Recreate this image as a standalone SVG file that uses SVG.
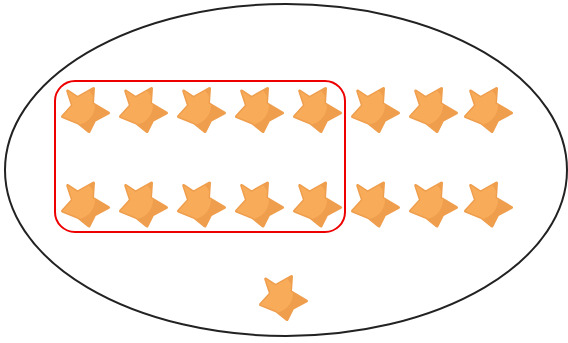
<svg xmlns="http://www.w3.org/2000/svg" width="568" height="343" viewBox="0 0 568 343">
<style>
.dark{fill:#EF9E4D;stroke:#EF9E4D;stroke-width:3;stroke-linejoin:round}
.light{fill:#F8AC59}
</style>
<defs>
<path id="sp" d="M9.5,-21.5 L8.5,-6.5 L24.5,3 L10.5,10.5 L5,21.5 L-5.5,13 L-21.5,6.5 L-11.5,-4.5 L-16.3,-19 L-6.5,-12.5 Z"/>
<clipPath id="sc"><use href="#sp"/></clipPath>
<g id="star">
<use href="#sp" class="dark"/>
<g clip-path="url(#sc)"><ellipse class="light" cx="-9" cy="-5" rx="20" ry="20"/></g>
</g>
</defs>
<g id="set">
<ellipse cx="286" cy="170" rx="281" ry="166" fill="none" stroke="#222" stroke-width="2"/>
</g>
<g id="group">
<rect x="55" y="81" width="290" height="151" rx="20" fill="none" stroke="#E00" stroke-width="2"/>
</g>
<g id="stars">
<use href="#star" x="84" y="110"/>
<use href="#star" x="142" y="110"/>
<use href="#star" x="200" y="110"/>
<use href="#star" x="258" y="110"/>
<use href="#star" x="316" y="110"/>
<use href="#star" x="374" y="110"/>
<use href="#star" x="432" y="110"/>
<use href="#star" x="487" y="110"/>
<use href="#star" x="84" y="204.5"/>
<use href="#star" x="142" y="204.5"/>
<use href="#star" x="200" y="204.5"/>
<use href="#star" x="258" y="204.5"/>
<use href="#star" x="316" y="204.5"/>
<use href="#star" x="374" y="204.5"/>
<use href="#star" x="432" y="204.5"/>
<use href="#star" x="487" y="204.5"/>
<use href="#star" x="282" y="298"/>
</g>
</svg>
